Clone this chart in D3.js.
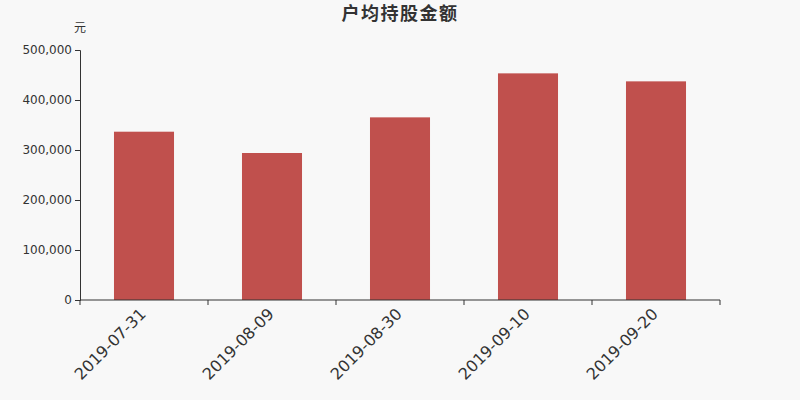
<!DOCTYPE html>
<html>
<head>
<meta charset="utf-8">
<script src="https://cdn.jsdelivr.net/npm/d3@7"></script>
<style>
  body { margin: 0; background: #f8f8f8; }
  text { font-family: "DejaVu Sans", "Noto Sans CJK SC", sans-serif; }
</style>
</head>
<body>
<div id="chart"></div>
<script>
// data
let dates = ["2019-07-31", "2019-08-09", "2019-08-30", "2019-09-10", "2019-09-20"];
let amounts = [336600, 294000, 365300, 453300, 437300];
let yTicks = [0, 100000, 200000, 300000, 400000, 500000];

let margin = { top: 50, right: 80, bottom: 100, left: 80 },
    width = 800 - margin.left - margin.right,
    height = 400 - margin.top - margin.bottom;

let svg = d3.select("#chart")
    .append("svg")
    .attr("width", 800)
    .attr("height", 400)
    .style("background", "#f8f8f8");

// title
svg.append("text")
    .attr("x", 400)
    .attr("y", 20)
    .attr("text-anchor", "middle")
    .style("font-size", "18px")
    .style("letter-spacing", "1.5px")
    .style("font-weight", "bold")
    .style("fill", "#333")
    .text("户均持股金额");

let g = svg.append("g")
    .attr("transform", "translate(" + margin.left + "," + margin.top + ")");

let x = d3.scaleBand()
    .domain(dates)
    .range([0, width])
    .paddingInner(0.531)
    .paddingOuter(0.2655);

let y = d3.scaleLinear()
    .domain([0, 500000])
    .range([height, 0]);

// bars
g.selectAll("rect.bar")
    .data(dates)
    .enter()
    .append("rect")
    .attr("class", "bar")
    .attr("x", function (d) { return x(d) })
    .attr("y", function (d, i) { return y(amounts[i]) })
    .attr("width", x.bandwidth())
    .attr("height", function (d, i) { return height - y(amounts[i]) })
    .style("fill", "#c0504d");

// y axis
let yAxis = g.append("g")
    .call(d3.axisLeft(y).tickValues(yTicks).tickSize(5).tickPadding(3)
        .tickFormat(d3.format(",")));
yAxis.selectAll("text").style("font-size", "12px").style("fill", "#333");
yAxis.selectAll("line, path").style("stroke", "#333");

svg.append("text")
    .attr("x", 80)
    .attr("y", 32)
    .attr("text-anchor", "middle")
    .style("font-size", "12px")
    .style("fill", "#333")
    .text("元");

// x axis, ticks on band edges
let edges = d3.range(dates.length + 1).map(function (i) { return i * width / dates.length });
let xAxis = g.append("g")
    .attr("transform", "translate(0," + height + ")");
xAxis.append("line")
    .attr("x1", 0).attr("x2", width)
    .style("stroke", "#333");
xAxis.selectAll("line.tick")
    .data(edges)
    .enter()
    .append("line")
    .attr("class", "tick")
    .attr("x1", function (d) { return d })
    .attr("x2", function (d) { return d })
    .attr("y1", 0).attr("y2", 5)
    .style("stroke", "#333");
xAxis.selectAll("text")
    .data(dates)
    .enter()
    .append("text")
    .attr("text-anchor", "end")
    .attr("transform", function (d) {
        return "translate(" + (x(d) + x.bandwidth() / 2 + 3) + ",15) rotate(-45)";
    })
    .style("font-size", "16px")
    .style("fill", "#333")
    .text(function (d) { return d });
</script>
</body>
</html>
